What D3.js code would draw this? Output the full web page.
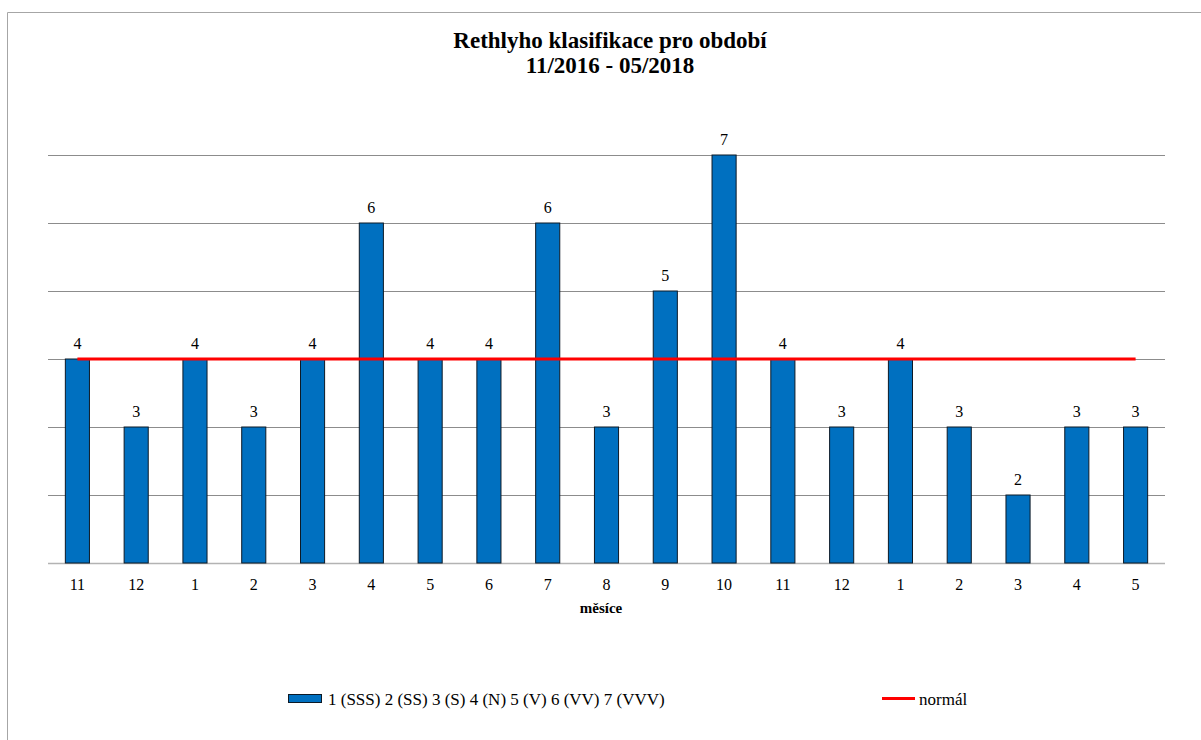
<!DOCTYPE html>
<html>
<head>
<meta charset="utf-8">
<script src="https://cdn.jsdelivr.net/npm/d3@7"></script>
<style>
  html, body { margin: 0; padding: 0; background: #fff; }
  svg { display: block; }
  svg text { font-family: "Liberation Serif", "Times New Roman", serif !important; fill: #000; }
</style>
</head>
<body>
<svg id="chart" width="1201" height="740"></svg>
<script>
// Monthly classification values, 11/2016 - 05/2018
const months = ["11", "12", "1", "2", "3", "4", "5", "6", "7", "8", "9", "10", "11", "12", "1", "2", "3", "4", "5"];
const classValues = [4, 3, 4, 3, 4, 6, 4, 4, 6, 3, 5, 7, 4, 3, 4, 3, 2, 3, 3];
const normalValue = 4;
const yTicks = [1, 2, 3, 4, 5, 6, 7];
const titleLines = ["Rethlyho klasifikace pro období", "11/2016 - 05/2018"];
const xTitle = "měsíce";
const barLegend = "1 (SSS) 2 (SS) 3 (S) 4 (N) 5 (V) 6 (VV) 7 (VVV)";
const lineLegend = "normál";

const svg = d3.select("#chart");
const W = 1201, H = 740;
const plot = { left: 48, right: 1165, top: 155, bottom: 563 };

// chart frame
svg.append("path")
  .attr("d", `M7.5,${H} L7.5,12.5 L${W},12.5`)
  .attr("fill", "none")
  .attr("stroke", "#a6a6a6")
  .attr("stroke-width", 1);

const keys = months.map((m, i) => i);
const x = d3.scaleBand().domain(keys).range([plot.left, plot.right]).paddingInner(0.59).paddingOuter(0.295);
const y = d3.scaleLinear().domain([1, 7]).range([plot.bottom, plot.top]);

// horizontal gridlines
svg.append("g").selectAll("line").data(yTicks).join("line")
  .attr("x1", plot.left).attr("x2", plot.right)
  .attr("y1", d => Math.round(y(d)) + 0.5).attr("y2", d => Math.round(y(d)) + 0.5)
  .attr("stroke", d => d === 1 ? "#b3b3b3" : "#8c8c8c")
  .attr("stroke-width", d => d === 1 ? 1.5 : 1);

// bars
svg.append("g").selectAll("rect").data(classValues).join("rect")
  .attr("x", (d, i) => x(i))
  .attr("y", d => y(d))
  .attr("width", x.bandwidth())
  .attr("height", d => y(1) - y(d))
  .attr("fill", "#0070c0")
  .attr("stroke", "#0d1a26")
  .attr("stroke-width", 1);

// value labels
svg.append("g").selectAll("text").data(classValues).join("text")
  .attr("x", (d, i) => x(i) + x.bandwidth() / 2)
  .attr("y", d => y(d) - 10)
  .attr("text-anchor", "middle")
  .style("font-size", "16px")
  .text(d => d);

// normal line
const line = d3.line()
  .x((d, i) => x(i) + x.bandwidth() / 2)
  .y(d => y(d));
svg.append("path")
  .datum(months.map(() => normalValue))
  .attr("d", line)
  .attr("fill", "none")
  .attr("stroke", "#ff0000")
  .attr("stroke-width", 3);

// category axis labels
const xAxis = d3.axisBottom(x).tickSize(0).tickPadding(15).tickFormat(i => months[i]);
const gx = svg.append("g").attr("transform", `translate(0,${plot.bottom})`).call(xAxis);
gx.select(".domain").remove();
gx.selectAll("text")
  .attr("dy", null)
  .attr("y", 27)
  .style("font-size", "16px")
  .style("fill", "#000");

// axis title
svg.append("text")
  .attr("x", 601)
  .attr("y", 613)
  .attr("text-anchor", "middle")
  .style("font-size", "15px")
  .style("font-weight", "bold")
  .text(xTitle);

// chart title
svg.append("g").selectAll("text").data(titleLines).join("text")
  .attr("x", 610)
  .attr("y", (d, i) => 48 + i * 25)
  .attr("text-anchor", "middle")
  .style("font-size", "23px")
  .style("font-weight", "bold")
  .text(d => d);

// legend
const lg = svg.append("g");
lg.append("rect")
  .attr("x", 288.5).attr("y", 694.5).attr("width", 33).attr("height", 8)
  .attr("fill", "#0070c0").attr("stroke", "#0d1a26").attr("stroke-width", 1);
lg.append("text")
  .attr("x", 328).attr("y", 705)
  .style("font-size", "17px")
  .text(barLegend);
lg.append("line")
  .attr("x1", 882).attr("x2", 915).attr("y1", 698.5).attr("y2", 698.5)
  .attr("stroke", "#ff0000").attr("stroke-width", 3);
lg.append("text")
  .attr("x", 919).attr("y", 705)
  .style("font-size", "17px")
  .text(lineLegend);
</script>
</body>
</html>
